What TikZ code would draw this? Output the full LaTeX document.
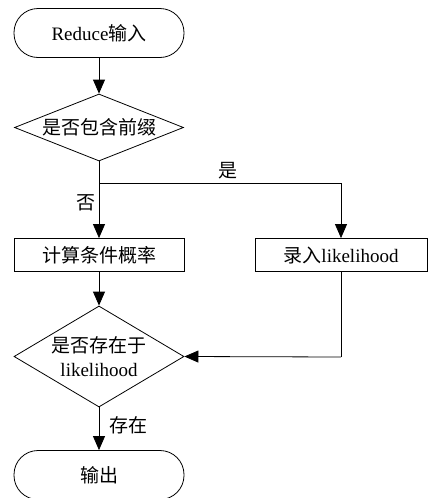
\documentclass[tikz,border=0pt]{standalone}
\usepackage{fontspec}
\setmainfont{Liberation Serif}
\newfontfamily\cjk{Noto Sans CJK SC}
\usetikzlibrary{shapes.geometric,arrows.meta}
\begin{document}
\begin{tikzpicture}[x=1pt,y=-1pt,
  every node/.style={font=\fontsize{19}{24}\selectfont},
  term/.style={draw, rounded corners=24pt, minimum width=170pt, minimum height=49pt, inner sep=0pt, line width=0.8pt},
  dec/.style={draw, diamond, inner sep=0pt, line width=0.8pt},
  proc/.style={draw, rectangle, minimum height=33pt, inner sep=0pt, line width=0.8pt},
  conn/.style={line width=0.8pt, -{Triangle[length=14pt,width=12pt]}},
  line/.style={line width=0.8pt},
  lbl/.style={font=\fontsize{19}{24}\selectfont\cjk}]
\useasboundingbox (0,0) rectangle (428,498);
\node[term] (start) at (99,33) {Reduce{\cjk 输入}};
\node[dec, minimum width=169pt, minimum height=67pt,
  label={[font=\fontsize{19}{24}\selectfont\cjk]center:是否包含前缀}] (d1) at (99,127.5) {};
\node[proc, minimum width=170pt] (calc) at (99,255) {\cjk 计算条件概率};
\node[proc, minimum width=172pt] (rec) at (341,255) {{\cjk 录入}likelihood};
\node[dec, minimum width=170pt, minimum height=101pt,
  label={[align=center, font=\fontsize{19}{24}\selectfont]center:{\cjk 是否存在于}\\likelihood}] (d2) at (99,356.5) {};
\node[term] (out) at (99,475) {\cjk 输出};
\coordinate (br) at (99,183);
\coordinate (brr) at (341,183);
\coordinate (rb) at (341,357);
\draw[conn] (start) -- (d1);
\draw[conn] (d1) -- (calc);
\draw[conn] (br) -- (brr) -- (rec);
\draw[line] (rec) -- (rb);
\draw[conn] (rb) -- (d2.east);
\draw[conn] (calc) -- (d2);
\draw[conn] (d2) -- (out);
\node[lbl] (yes) at (228,171) {是};
\node[lbl] (no) at (86,203) {否};
\node[lbl, anchor=west] (ex) at (106,425) {存在};
\end{tikzpicture}
\end{document}
